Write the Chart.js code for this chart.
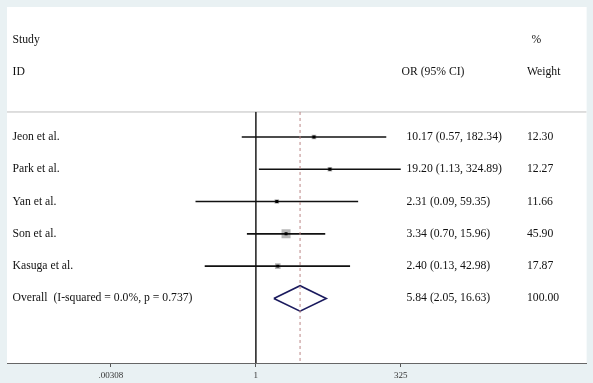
<!DOCTYPE html>
<html>
<head>
<meta charset="utf-8">
<script src="https://cdn.jsdelivr.net/npm/chart.js@4/dist/chart.umd.min.js"></script>
<style>
  html, body { margin: 0; padding: 0; background: #e9f1f3; }
  canvas { display: block; }
</style>
</head>
<body>
<canvas id="c" width="593" height="383"></canvas>
<script>
// ---- data ----
const studies = ['Jeon et al.', 'Park et al.', 'Yan et al.', 'Son et al.', 'Kasuga et al.'];
const oddsRatio = [10.17, 19.20, 2.31, 3.34, 2.40];
const ciLow = [0.57, 1.13, 0.09, 0.70, 0.13];
const ciHigh = [182.34, 324.89, 59.35, 15.96, 42.98];
const weights = [12.30, 12.27, 11.66, 45.90, 17.87];
const overallLabel = 'Overall  (I-squared = 0.0%, p = 0.737)';
const overallOR = 5.84;
const overallLow = 2.05;
const overallHigh = 16.63;
const overallWeight = 100.00;
const tickValues = [0.00308, 1, 325];
const tickLabels = ['.00308', '1', '325'];

// ---- layout (rows on a reversed linear scale) ----
const studyRows = studies.map((s, i) => 4 + i);
const overallRow = 9;
const headerRow1 = 1, headerRow2 = 2;
const topLineRow = 3.226;
const yMin = -0.025, yMax = 11.0;
const xMin = 4.86e-5, xMax = 5.42e5;
const diamondHalf = 0.395;

const fmt = v => v.toFixed(2);

const datasets = [];
// weight boxes
datasets.push({
  type: 'scatter', order: 5,
  data: studies.map((s, i) => ({ x: oddsRatio[i], y: studyRows[i] })),
  pointStyle: 'rect',
  pointRadius: ctx => 0.94 * Math.sqrt(weights[ctx.dataIndex]),
  backgroundColor: '#b7b7b7', borderWidth: 0
});
// CI lines
studies.forEach((s, i) => {
  datasets.push({
    type: 'line', order: 4,
    data: [{ x: ciLow[i], y: studyRows[i] }, { x: ciHigh[i], y: studyRows[i] }],
    borderColor: '#111', borderWidth: 1.6, pointRadius: 0, fill: false
  });
});
// point estimates
datasets.push({
  type: 'scatter', order: 2,
  data: studies.map((s, i) => ({ x: oddsRatio[i], y: studyRows[i] })),
  pointStyle: 'rect', pointRadius: 2.1,
  backgroundColor: '#000', borderWidth: 0
});
// overall diamond
datasets.push({
  type: 'line', order: 3,
  data: [
    { x: overallLow, y: overallRow },
    { x: overallOR, y: overallRow - diamondHalf },
    { x: overallHigh, y: overallRow },
    { x: overallOR, y: overallRow + diamondHalf },
    { x: overallLow, y: overallRow }
  ],
  borderColor: '#1b1b5e', borderWidth: 1.6, pointRadius: 0, fill: false, tension: 0
});
// no-effect line at 1
datasets.push({
  type: 'line', order: 6,
  data: [{ x: 1, y: topLineRow }, { x: 1, y: yMax }],
  borderColor: '#333', borderWidth: 1, pointRadius: 0
});
// dashed overall line
datasets.push({
  type: 'line', order: 1,
  data: [{ x: overallOR, y: topLineRow }, { x: overallOR, y: yMax }],
  borderColor: '#bb8585', borderWidth: 1, borderDash: [3, 3], pointRadius: 0
});
// top separator line
datasets.push({
  type: 'line', order: 7,
  data: [{ x: xMin, y: topLineRow }, { x: xMax, y: topLineRow }],
  borderColor: '#bdbdbd', borderWidth: 1, pointRadius: 0
});

const bgPlugin = {
  id: 'bg',
  beforeDraw(chart) {
    const { ctx, chartArea: a } = chart;
    ctx.save();
    ctx.fillStyle = '#e9f1f3';
    ctx.fillRect(0, 0, chart.width, chart.height);
    ctx.fillStyle = '#ffffff';
    ctx.fillRect(a.left, a.top, a.right - a.left, a.bottom - a.top);
    ctx.restore();
  }
};

const textPlugin = {
  id: 'texts',
  afterDatasetsDraw(chart) {
    const { ctx } = chart;
    const ys = chart.scales.y;
    ctx.save();
    ctx.font = '11.7px "Liberation Serif", "Times New Roman", serif';
    ctx.fillStyle = '#111';
    ctx.textBaseline = 'middle';
    ctx.textAlign = 'left';
    const colName = 12.5, colOR = 406.5, colW = 527;
    ctx.fillText('Study', colName, ys.getPixelForValue(headerRow1));
    ctx.fillText('ID', colName, ys.getPixelForValue(headerRow2));
    ctx.fillText('%', 531.5, ys.getPixelForValue(headerRow1));
    ctx.fillText('OR (95% CI)', 401.5, ys.getPixelForValue(headerRow2));
    ctx.fillText('Weight', colW, ys.getPixelForValue(headerRow2));
    studies.forEach((s, i) => {
      const y = ys.getPixelForValue(studyRows[i]);
      ctx.fillText(s, colName, y);
      ctx.fillText(`${fmt(oddsRatio[i])} (${fmt(ciLow[i])}, ${fmt(ciHigh[i])})`, colOR, y);
      ctx.fillText(fmt(weights[i]), colW, y);
    });
    const yo = ys.getPixelForValue(overallRow);
    ctx.fillText(overallLabel, colName, yo);
    ctx.fillText(`${fmt(overallOR)} (${fmt(overallLow)}, ${fmt(overallHigh)})`, colOR, yo);
    ctx.fillText(fmt(overallWeight), colW, yo);
    ctx.restore();
  }
};

new Chart(document.getElementById('c'), {
  type: 'scatter',
  data: { datasets },
  options: {
    responsive: false,
    animation: false,
    devicePixelRatio: 1,
    layout: { padding: { left: 7, right: 6, top: 7, bottom: 0 } },
    plugins: { legend: { display: false }, tooltip: { enabled: false } },
    scales: {
      x: {
        type: 'logarithmic',
        min: xMin, max: xMax,
        afterBuildTicks: scale => { scale.ticks = tickValues.map(v => ({ value: v })); },
        afterFit: scale => { scale.height = 20; },
        ticks: {
          autoSkip: false, maxRotation: 0, padding: 3,
          color: '#333',
          font: { family: '"Liberation Serif", "Times New Roman", serif', size: 9 },
          callback: (v, i) => tickLabels[i]
        },
        grid: { drawOnChartArea: false, drawTicks: true, tickLength: 4, color: '#555' },
        border: { display: true, color: '#666', width: 1 }
      },
      y: {
        type: 'linear', reverse: true, min: yMin, max: yMax, display: false
      }
    }
  },
  plugins: [bgPlugin, textPlugin]
});
</script>
</body>
</html>
